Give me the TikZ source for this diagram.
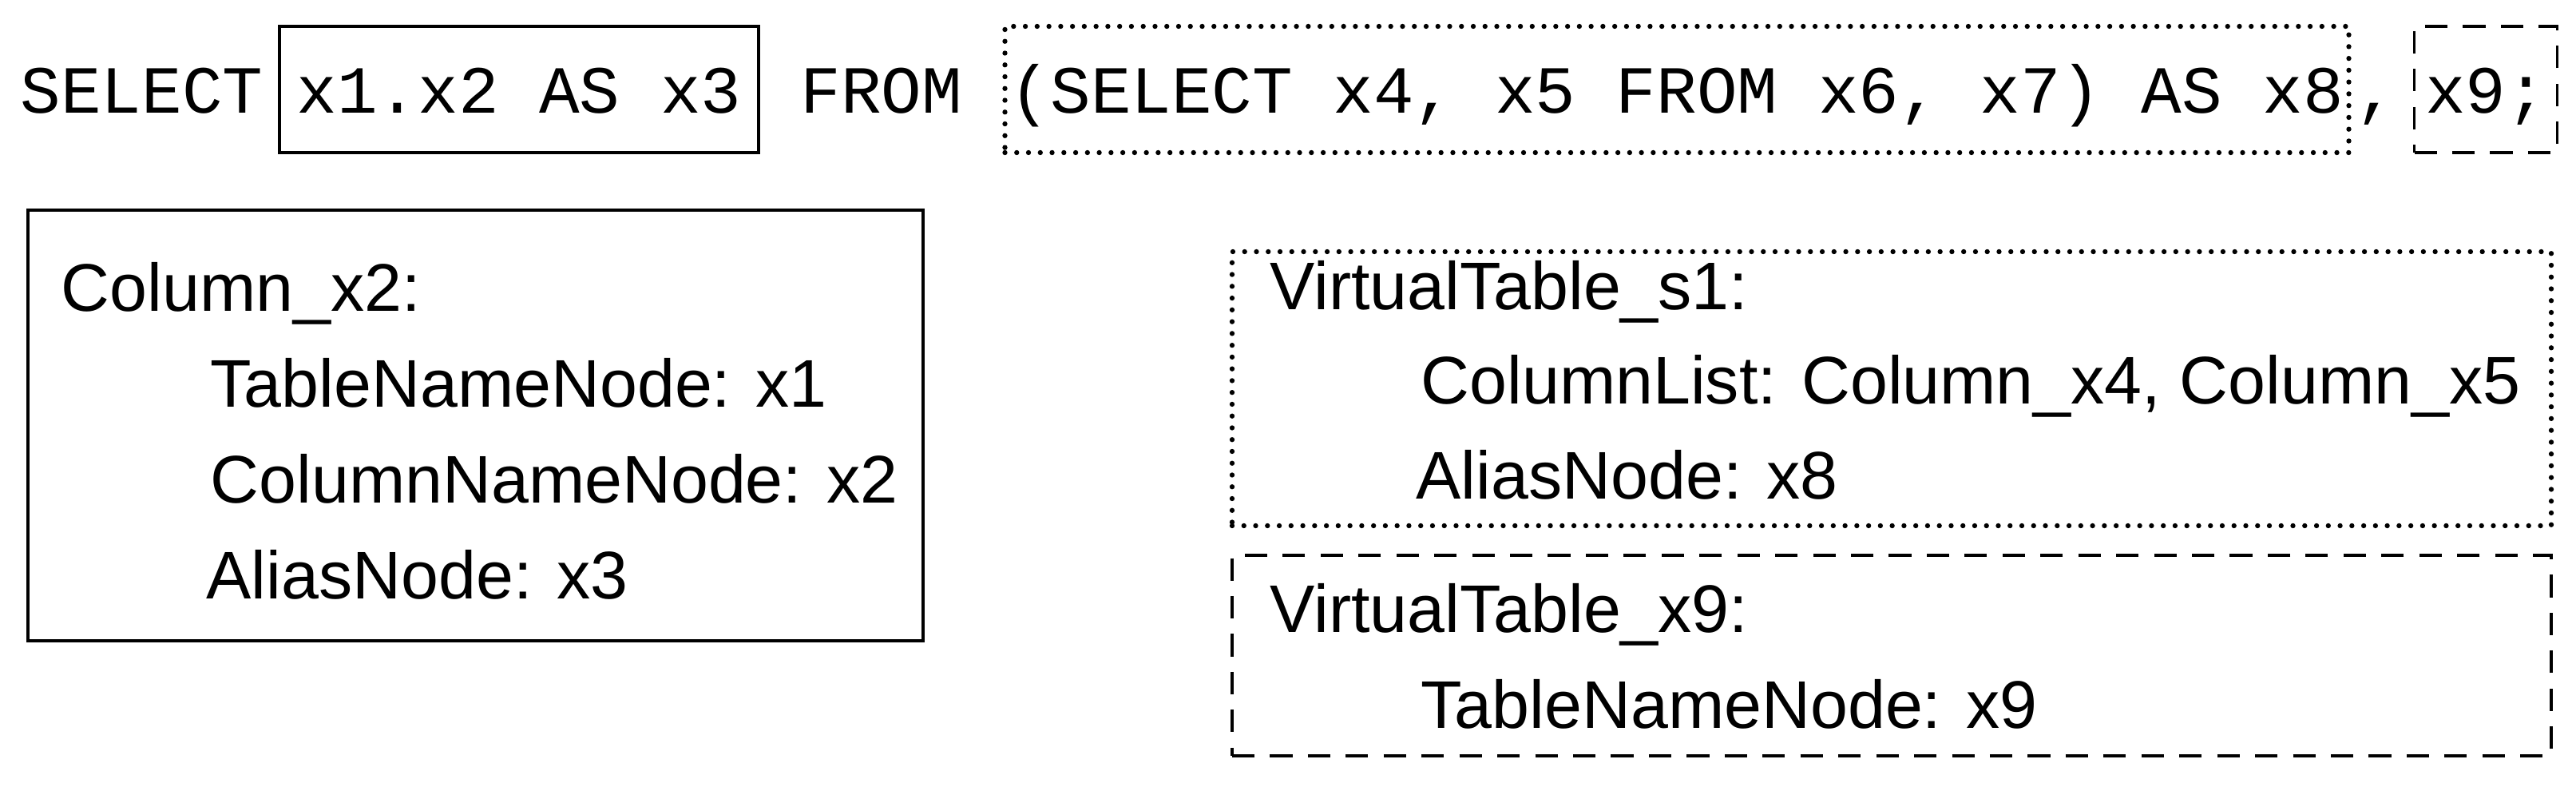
\documentclass[tikz,border=0pt]{standalone}
\usepackage{fontspec}
\setmainfont{Liberation Sans}
\newfontfamily\monofont{Liberation Mono}
\begin{document}
\begin{tikzpicture}[
  mono/.style={font=\monofont\fontsize{24}{28}\selectfont, inner sep=0pt, anchor=base west},
  sans/.style={font=\fontsize{24}{28}\selectfont, inner sep=0pt, anchor=base west},
  solidbox/.style={draw, line width=1.1pt, inner sep=0pt},
  dotbox/.style={draw, line width=1.8pt, dash pattern=on 0pt off 4.2pt, line cap=round, inner sep=0pt},
  dashbox/.style={draw, line width=1.1pt, dash pattern=on 8pt off 5.5pt, inner sep=0pt}
]
\useasboundingbox (0,0) rectangle (32.26,9.89);
% top line
\node[solidbox, minimum width=6.0cm, minimum height=1.58cm] (b1) at (6.50,8.77) {};
\node[dotbox, minimum width=16.83cm, minimum height=1.58cm] (b2) at (21.00,8.77) {};
\node[dashbox, minimum width=1.79cm, minimum height=1.58cm] (b3) at (31.13,8.77) {};
\node[mono] (t0) at (0.25,8.48) {SELECT};
\node[mono, anchor=base] (t1) at (b1.center |- 0,8.48) {x1.x2 AS x3};
\node[mono] (t2) at (10.02,8.48) {FROM};
\node[mono, anchor=base] (t3) at (b2.center |- 0,8.48) {(SELECT x4, x5 FROM x6, x7) AS x8};
\node[mono] (t4) at (29.50,8.48) {,};
\node[mono, anchor=base] (t5) at (b3.center |- 0,8.48) {x9;};
% box A
\node[solidbox, minimum width=11.21cm, minimum height=5.39cm] (ba) at (5.955,4.565) {};
\node[sans] (a1) at (0.76,6.00) {Column\_x2:};
\node[sans] (a2) at (2.63,4.80) {TableNameNode: x1};
\node[sans] (a3) at (2.63,3.60) {ColumnNameNode: x2};
\node[sans] (a4) at (2.58,2.40) {AliasNode: x3};
% box B
\node[dotbox, minimum width=16.52cm, minimum height=3.43cm] (bb) at (23.69,5.025) {};
\node[sans] (s1) at (15.90,6.02) {VirtualTable\_s1:};
\node[sans] (s2) at (17.79,4.84) {ColumnList: Column\_x4, Column\_x5};
\node[sans] (s3) at (17.73,3.65) {AliasNode: x8};
% box C
\node[dashbox, minimum width=16.52cm, minimum height=2.51cm] (bc) at (23.69,1.685) {};
\node[sans] (c1) at (15.90,1.98) {VirtualTable\_x9:};
\node[sans] (c2) at (17.79,0.78) {TableNameNode: x9};
\end{tikzpicture}
\end{document}
